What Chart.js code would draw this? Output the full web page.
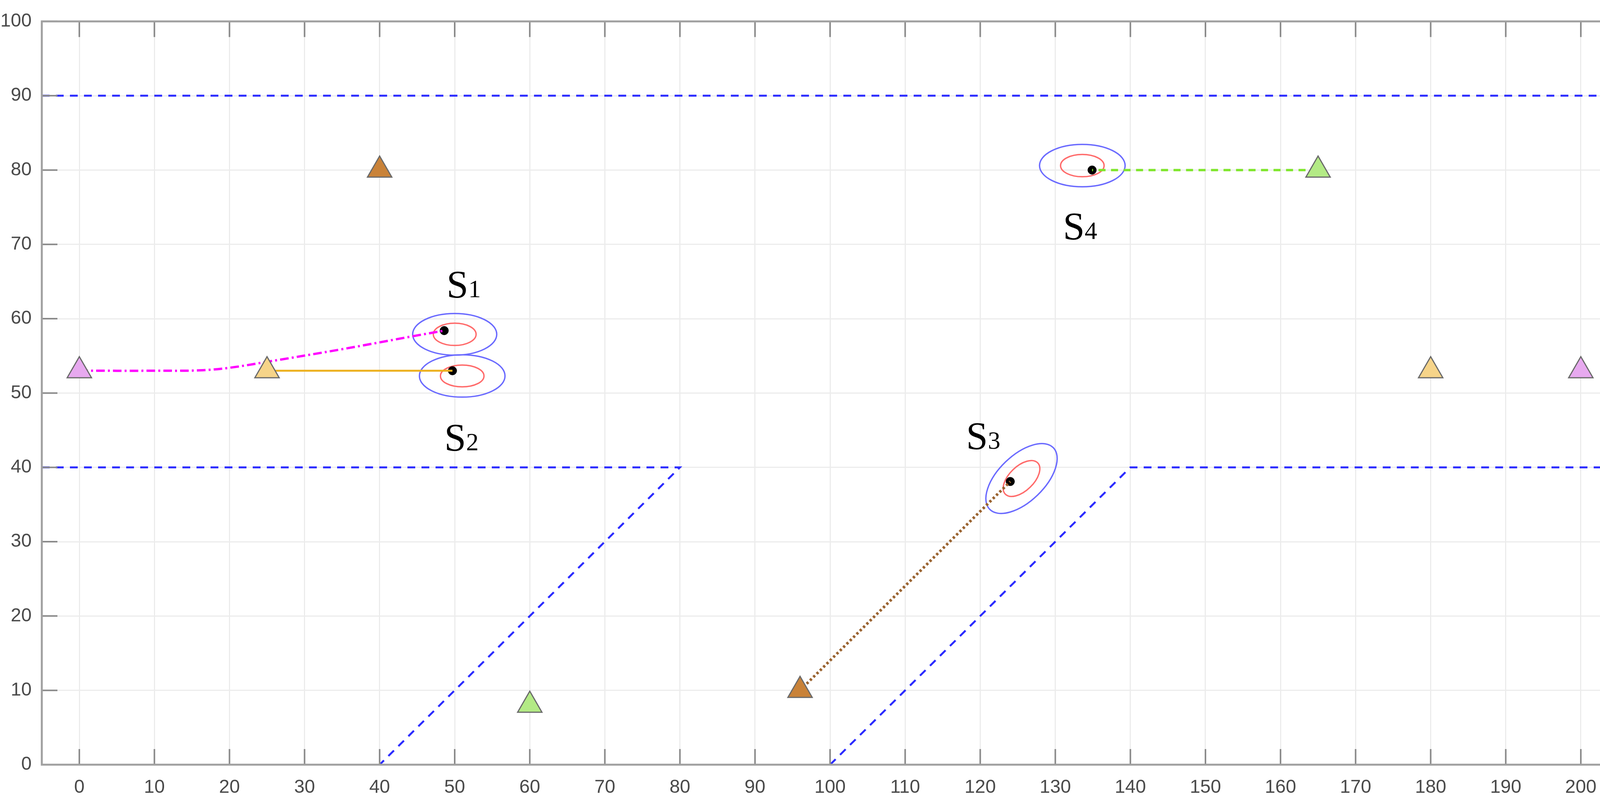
<!DOCTYPE html>
<html>
<head>
<meta charset="utf-8">
<script src="https://cdn.jsdelivr.net/npm/chart.js@4"></script>
<style>
  html, body { margin: 0; padding: 0; background: #fff; }
  #wrap { width: 4182px; height: 2051px; }
</style>
</head>
<body>
<div id="wrap"><canvas id="c"></canvas></div>
<script>
// axis ticks
const xTicks = [0, 10, 20, 30, 40, 50, 60, 70, 80, 90, 100, 110, 120, 130, 140, 150, 160, 170, 180, 190, 200];
const yTicks = [0, 10, 20, 30, 40, 50, 60, 70, 80, 90, 100];

// anchor triangles
const anchorX = [40, 0, 25, 60, 96, 165, 180, 200];
const anchorY = [80, 53, 53, 8, 10, 80, 53, 53];
const anchorCol = ['#c98238', '#e7a9ef', '#f6d489', '#b3ea85', '#c98238', '#b3ea85', '#f6d489', '#e7a9ef'];

// road boundaries (blue dashed)
const bound1 = [[-5, 90], [205, 90]];
const bound2 = [[-5, 40], [80, 40], [40, 0]];
const bound3 = [[100, 0], [140, 40], [205, 40]];

// trajectories
const trajS1 = [[0, 53], [10, 53], [16, 53.05], [20, 53.4], [25, 54.2], [35, 55.9], [45, 57.75], [48.6, 58.4]];
const trajS2 = [[25, 53], [49.7, 53]];
const trajS3 = [[96, 10], [124, 38.1]];
const trajS4 = [[165, 80], [134.9, 80]];

// current estimates (black)
const estX = [48.6, 49.7, 124, 134.9];
const estY = [58.4, 53, 38.1, 80];

// uncertainty ellipses: centre, semi-axes, rotation (deg)
const ellCx  = [50.0, 51.0, 125.5, 133.6];
const ellCy  = [57.9, 52.3, 38.5, 80.6];
const blueRx = [5.6, 5.7, 5.9, 5.7];
const blueRy = [2.8, 2.85, 3.1, 2.85];
const redRx  = [2.85, 2.9, 3.0, 2.9];
const redRy  = [1.5, 1.47, 1.65, 1.5];
const ellRot = [0, 0, 44, 0];

// labels
const labTxt = ['1', '2', '3', '4'];
const labX = [51.2, 50.9, 120.4, 133.3];
const labY = [64.8, 44.2, 44.4, 72.6];

const pts = a => a.map(p => ({ x: p[0], y: p[1] }));

const overlay = {
  id: 'overlay',
  beforeDatasetsDraw(chart) {
    const { ctx, scales: { x, y } } = chart;
    const ux = Math.abs(x.getPixelForValue(1) - x.getPixelForValue(0));
    const uy = Math.abs(y.getPixelForValue(1) - y.getPixelForValue(0));
    ctx.save();
    ctx.lineWidth = 3.5;
    ellCx.forEach((cx, i) => {
      const px = x.getPixelForValue(cx), py = y.getPixelForValue(ellCy[i]);
      const rot = -ellRot[i] * Math.PI / 180;
      ctx.strokeStyle = '#6a6aff';
      ctx.beginPath(); ctx.ellipse(px, py, blueRx[i] * ux, blueRy[i] * uy, rot, 0, 2 * Math.PI); ctx.stroke();
      ctx.strokeStyle = '#ff6a6a';
      ctx.beginPath(); ctx.ellipse(px, py, redRx[i] * ux, redRy[i] * uy, rot, 0, 2 * Math.PI); ctx.stroke();
    });
    ctx.restore();
  },
  afterDraw(chart) {
    const { ctx, chartArea: a, scales: { x, y } } = chart;
    ctx.save();
    // inward ticks on all four sides
    ctx.strokeStyle = '#8a8a8a';
    ctx.lineWidth = 4;
    const tl = 40;
    xTicks.forEach(v => {
      const px = x.getPixelForValue(v);
      ctx.beginPath(); ctx.moveTo(px, a.bottom); ctx.lineTo(px, a.bottom - tl); ctx.stroke();
      ctx.beginPath(); ctx.moveTo(px, a.top); ctx.lineTo(px, a.top + tl); ctx.stroke();
    });
    yTicks.forEach(v => {
      const py = y.getPixelForValue(v);
      ctx.beginPath(); ctx.moveTo(a.left, py); ctx.lineTo(a.left + tl, py); ctx.stroke();
      ctx.beginPath(); ctx.moveTo(a.right, py); ctx.lineTo(a.right - tl, py); ctx.stroke();
    });
    ctx.strokeStyle = '#a0a0a0';
    ctx.lineWidth = 5;
    ctx.strokeRect(a.left, a.top, a.right - a.left, a.bottom - a.top);
    // S labels
    ctx.fillStyle = '#000';
    ctx.textBaseline = 'alphabetic';
    labTxt.forEach((t, i) => {
      const px = x.getPixelForValue(labX[i]), py = y.getPixelForValue(labY[i]) + 36;
      ctx.font = '100px "Liberation Serif", "DejaVu Serif", serif';
      const w1 = ctx.measureText('S').width;
      ctx.font = '64px "Liberation Serif", "DejaVu Serif", serif';
      const w2 = ctx.measureText(t).width;
      const x0 = px - (w1 + w2) / 2;
      ctx.font = '100px "Liberation Serif", "DejaVu Serif", serif';
      ctx.fillText('S', x0, py);
      ctx.font = '64px "Liberation Serif", "DejaVu Serif", serif';
      ctx.fillText(t, x0 + w1, py);
    });
    ctx.restore();
  }
};

const lineDs = (data, color, width, dash, tension) => ({
  type: 'line', data: pts(data), borderColor: color, borderWidth: width,
  borderDash: dash, pointRadius: 0, fill: false, tension: tension || 0, showLine: true
});

new Chart(document.getElementById('c'), {
  type: 'scatter',
  data: {
    datasets: [
      lineDs(bound1, '#2b2bff', 5, [20, 16]),
      lineDs(bound2, '#2b2bff', 5, [20, 16]),
      lineDs(bound3, '#2b2bff', 5, [20, 16]),
      {
        data: anchorX.map((v, i) => ({ x: v, y: anchorY[i] })),
        pointStyle: 'triangle', pointRadius: 36, pointBorderWidth: 3,
        pointBackgroundColor: anchorCol, pointBorderColor: '#6a6a6a'
      },
      lineDs(trajS1, '#ff00ff', 6, [22, 8, 5, 8], 0.35),
      lineDs(trajS2, '#edb120', 5, []),
      lineDs(trajS3, '#9a6330', 7, [6, 6]),
      lineDs(trajS4, '#7ee62a', 6, [18, 14]),
      {
        data: estX.map((v, i) => ({ x: v, y: estY[i] })),
        pointRadius: 11, pointBackgroundColor: '#000', pointBorderColor: '#000'
      }
    ]
  },
  options: {
    responsive: true, maintainAspectRatio: false, animation: false,
    layout: { padding: { top: 32, right: 29, left: 0, bottom: 0 } },
    plugins: { legend: { display: false }, tooltip: { enabled: false } },
    scales: {
      x: {
        type: 'linear', min: -5, max: 205,
        afterBuildTicks: s => { s.ticks = xTicks.map(v => ({ value: v })); },
        afterFit: s => { s.height = 93; },
        grid: { color: '#ececec', lineWidth: 3, drawTicks: false },
        border: { display: false },
        ticks: { padding: 30, color: '#4a4a4a', font: { family: '"Liberation Sans", Arial', size: 48 } }
      },
      y: {
        type: 'linear', min: 0, max: 100,
        afterBuildTicks: s => { s.ticks = yTicks.map(v => ({ value: v })); },
        afterFit: s => { s.width = 107; },
        grid: { color: '#ececec', lineWidth: 3, drawTicks: false },
        border: { display: false },
        ticks: { padding: 26, color: '#4a4a4a', font: { family: '"Liberation Sans", Arial', size: 48 } }
      }
    }
  },
  plugins: [overlay]
});
</script>
</body>
</html>
